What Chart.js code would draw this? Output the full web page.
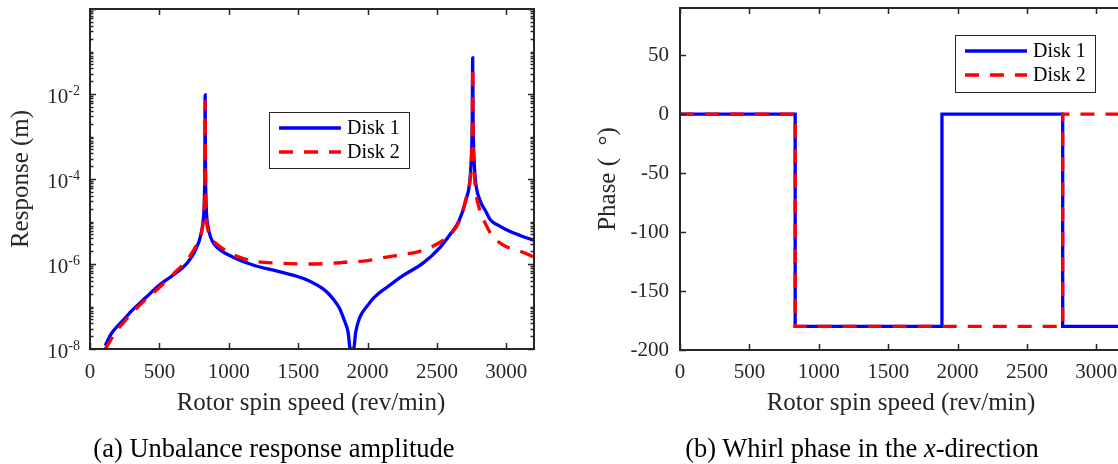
<!DOCTYPE html>
<html>
<head>
<meta charset="utf-8">
<script src="https://cdn.jsdelivr.net/npm/chart.js@4.4.0/dist/chart.umd.min.js"></script>
<style>
html, body { margin: 0; padding: 0; background: #fff; overflow: hidden; }
#wrap { position: relative; width: 1118px; height: 464px; overflow: hidden; }
canvas { position: absolute; top: 0; }
#amp { left: 0; }
#phase { left: 560px; }
.cap { position: absolute; top: 433px; font: 26.5px "Liberation Serif", "Times New Roman", serif; color: #000; white-space: nowrap; transform: translateX(-50%); line-height: 30px; }
</style>
</head>
<body>
<div id="wrap">
  <canvas id="amp" width="560" height="464"></canvas>
  <canvas id="phase" width="600" height="464"></canvas>
  <div class="cap" style="left:274px">(a) Unbalance response amplitude</div>
  <div class="cap" style="left:862px">(b) Whirl phase in the <i>x</i>-direction</div>
</div>
<script>
// rotor speed (rev/min) and response amplitude (m)
const speed = [110, 150, 200, 250, 300, 400, 500, 600, 700, 760,
    800, 815, 822, 826, 828, 830, 832, 834, 838, 850,
    870, 900, 950, 1030, 1175, 1370, 1565, 1700, 1760, 1800,
    1830, 1860, 1876, 1888, 1900, 1915, 1945, 2000, 2050, 2150,
    2250, 2400, 2520, 2600, 2660, 2710, 2740, 2750, 2755, 2758,
    2761, 2766, 2776, 2810, 2850, 2885, 2950, 3005, 3100, 3200];
const disk1Amp = [1.2e-8, 2.2e-8, 3.5e-8, 5.2e-8, 7.9e-8, 1.6e-7, 3.2e-7, 5.5e-7, 1.05e-6, 2.1e-6,
    5.0e-6, 1.0e-5, 2.0e-5, 6.3e-5, 3.2e-4, 9.5e-3, 3.2e-4, 6.3e-5, 2.0e-5, 7.9e-6,
    4.2e-6, 2.8e-6, 2.0e-6, 1.45e-6, 9.5e-7, 6.5e-7, 4.2e-7, 2.3e-7, 1.4e-7, 8.9e-8,
    5.0e-8, 2.5e-8, 1.0e-8, 1.0e-8, 1.0e-8, 2.5e-8, 5.6e-8, 1.05e-7, 1.66e-7, 3.0e-7,
    5.2e-7, 1.05e-6, 2.4e-6, 5.2e-6, 1.05e-5, 3.2e-5, 1.1e-4, 4.5e-4, 2.5e-3, 7.1e-2,
    2.5e-3, 4.5e-4, 1.1e-4, 3.2e-5, 1.8e-5, 1.1e-5, 7.9e-6, 6.3e-6, 4.7e-6, 3.6e-6];
const disk2Amp = [1.0e-8, 1.65e-8, 2.9e-8, 4.5e-8, 6.9e-8, 1.45e-7, 2.8e-7, 5.8e-7, 1.26e-6, 2.5e-6,
    5.0e-6, 8.9e-6, 1.6e-5, 4.0e-5, 1.6e-4, 6.5e-3, 1.6e-4, 3.2e-5, 1.26e-5, 6.3e-6,
    4.0e-6, 3.2e-6, 2.4e-6, 1.66e-6, 1.17e-6, 1.05e-6, 1.0e-6, 1.02e-6, 1.05e-6, 1.07e-6,
    1.1e-6, 1.1e-6, 1.1e-6, 1.1e-6, 1.12e-6, 1.12e-6, 1.15e-6, 1.2e-6, 1.29e-6, 1.48e-6,
    1.66e-6, 2.1e-6, 3.2e-6, 5.0e-6, 1.0e-5, 3.5e-5, 1.0e-4, 3.2e-4, 1.6e-3, 4.4e-2,
    1.26e-3, 2.5e-4, 7.1e-5, 1.8e-5, 8.9e-6, 5.4e-6, 3.2e-6, 2.5e-6, 2.0e-6, 1.45e-6];

// whirl phase (deg), held until the next speed
const phaseSpeed = [0, 830, 1888, 2758, 3200];
const disk1Phase = [0, -180, 0, -180, -180];
const disk2Phase = [0, -180, -180, 0, 0];

const speedTicks = [0, 500, 1000, 1500, 2000, 2500, 3000];
const ampTicks = [1e-8, 1e-6, 1e-4, 1e-2];
const phaseTicks = [-200, -150, -100, -50, 0, 50];
const seriesNames = ['Disk 1', 'Disk 2'];

const FONT = '"Liberation Serif", "Times New Roman", serif';
const INK = '#262626';
const BLUE = '#0000ff';
const RED = '#ff0000';
const DASH = [14, 11];

const pts = (xs, ys) => xs.map((x, i) => ({ x, y: ys[i] }));

// box, inward ticks, labels, titles and legend in MATLAB style
const frame = {
    id: 'frame',
    afterDraw(chart, args, o) {
        const { ctx, chartArea: a, scales: { x, y } } = chart;
        ctx.save();
        ctx.strokeStyle = INK;
        ctx.fillStyle = INK;

        ctx.lineWidth = 1.5;
        ctx.beginPath();
        speedTicks.forEach((v) => {
            const px = Math.round(x.getPixelForValue(v)) + 0.5;
            ctx.moveTo(px, a.bottom); ctx.lineTo(px, a.bottom - 6);
            ctx.moveTo(px, a.top); ctx.lineTo(px, a.top + 6);
        });
        if (o.log) {
            for (let e = -8; e <= 0; e++) {
                const major = e % 2 === 0;
                const py = Math.round(y.getPixelForValue(Math.pow(10, e))) + 0.5;
                const len = major ? 6 : 3.5;
                ctx.moveTo(a.left, py); ctx.lineTo(a.left + len, py);
                ctx.moveTo(a.right, py); ctx.lineTo(a.right - len, py);
                if (e === 0) break;
                for (let k = 2; k <= 9; k++) {
                    const pm = Math.round(y.getPixelForValue(k * Math.pow(10, e))) + 0.5;
                    ctx.moveTo(a.left, pm); ctx.lineTo(a.left + 3.5, pm);
                    ctx.moveTo(a.right, pm); ctx.lineTo(a.right - 3.5, pm);
                }
            }
        } else {
            phaseTicks.forEach((v) => {
                const py = Math.round(y.getPixelForValue(v)) + 0.5;
                ctx.moveTo(a.left, py); ctx.lineTo(a.left + 6, py);
                ctx.moveTo(a.right, py); ctx.lineTo(a.right - 6, py);
            });
        }
        ctx.stroke();

        ctx.lineWidth = 2;
        ctx.strokeRect(a.left, a.top, a.right - a.left, a.bottom - a.top);

        // tick labels
        ctx.font = `21px ${FONT}`;
        ctx.textAlign = 'center';
        ctx.textBaseline = 'middle';
        speedTicks.forEach((v) => ctx.fillText(String(v), x.getPixelForValue(v), 372));

        if (o.log) {
            ampTicks.forEach((v) => {
                const py = y.getPixelForValue(v);
                const sup = String(Math.round(Math.log10(v)));
                ctx.textAlign = 'left';
                ctx.textBaseline = 'alphabetic';
                ctx.font = `14px ${FONT}`;
                const ws = ctx.measureText(sup).width;
                ctx.font = `21px ${FONT}`;
                const wb = ctx.measureText('10').width;
                const right = a.left - 10;
                ctx.fillText('10', right - ws - wb, py + 9);
                ctx.font = `14px ${FONT}`;
                ctx.fillText(sup, right - ws, py + 1);
            });
        } else {
            ctx.textAlign = 'right';
            phaseTicks.forEach((v) => ctx.fillText(String(v), a.left - 11, y.getPixelForValue(v)));
        }

        // axis titles
        ctx.font = `25px ${FONT}`;
        ctx.textAlign = 'center';
        ctx.textBaseline = 'middle';
        ctx.fillText(o.xTitle, o.xTitleX, 403);
        ctx.save();
        ctx.translate(o.yTitleX, (a.top + a.bottom) / 2);
        ctx.rotate(-Math.PI / 2);
        ctx.fillText(o.yTitle, 0, 0);
        ctx.restore();

        // legend
        const L = o.legend;
        ctx.fillStyle = '#fff';
        ctx.fillRect(L.x, L.y, L.w, L.h);
        ctx.lineWidth = 1;
        ctx.strokeStyle = INK;
        ctx.strokeRect(L.x + 0.5, L.y + 0.5, L.w, L.h);
        ctx.lineWidth = 3.3;
        [BLUE, RED].forEach((c, i) => {
            const ly = L.y + 16 + i * 24;
            ctx.strokeStyle = c;
            ctx.setLineDash(i ? DASH : []);
            ctx.beginPath();
            ctx.moveTo(L.x + 10, ly); ctx.lineTo(L.x + 72, ly);
            ctx.stroke();
            ctx.setLineDash([]);
            ctx.fillStyle = '#000';
            ctx.font = `20px ${FONT}`;
            ctx.textAlign = 'left';
            ctx.fillText(seriesNames[i], L.x + 78, ly + 1);
        });
        ctx.restore();
    },
};

function lineStyle(i) {
    return {
        borderColor: i ? RED : BLUE,
        borderWidth: 3.3,
        borderDash: i ? DASH : [],
        pointRadius: 0,
        order: i ? 1 : 2,
        fill: false,
    };
}

const common = {
    responsive: false,
    animation: false,
    events: [],
    plugins: { legend: { display: false }, tooltip: { enabled: false } },
};

new Chart(document.querySelector('#amp'), {
    type: 'line',
    data: {
        datasets: [
            { label: seriesNames[0], data: pts(speed, disk1Amp), cubicInterpolationMode: 'monotone', ...lineStyle(0) },
            { label: seriesNames[1], data: pts(speed, disk2Amp), cubicInterpolationMode: 'monotone', ...lineStyle(1) },
        ],
    },
    options: {
        ...common,
        layout: { padding: { left: 90, top: 9, right: 26, bottom: 115 } },
        scales: {
            x: { type: 'linear', min: 0, max: 3200, display: false },
            y: { type: 'logarithmic', min: 1e-8, max: 1, display: false },
        },
        plugins: {
            ...common.plugins,
            frame: {
                log: true,
                xTitle: 'Rotor spin speed (rev/min)', xTitleX: 311,
                yTitle: 'Response (m)', yTitleX: 21,
                legend: { x: 269, y: 112, w: 140, h: 56 },
            },
        },
    },
    plugins: [frame],
});

new Chart(document.querySelector('#phase'), {
    type: 'line',
    data: {
        datasets: [
            { label: seriesNames[0], data: pts(phaseSpeed, disk1Phase), stepped: 'before', ...lineStyle(0) },
            { label: seriesNames[1], data: pts(phaseSpeed, disk2Phase), stepped: 'before', ...lineStyle(1) },
        ],
    },
    options: {
        ...common,
        layout: { padding: { left: 120, top: 8, right: 36, bottom: 114 } },
        scales: {
            x: { type: 'linear', min: 0, max: 3200, display: false },
            y: { type: 'linear', min: -200, max: 90, display: false },
        },
        plugins: {
            ...common.plugins,
            frame: {
                log: false,
                xTitle: 'Rotor spin speed (rev/min)', xTitleX: 341,
                yTitle: 'Phase (  \u00b0)', yTitleX: 48,
                legend: { x: 395, y: 35, w: 140, h: 57 },
            },
        },
    },
    plugins: [frame],
});
</script>
</body>
</html>
